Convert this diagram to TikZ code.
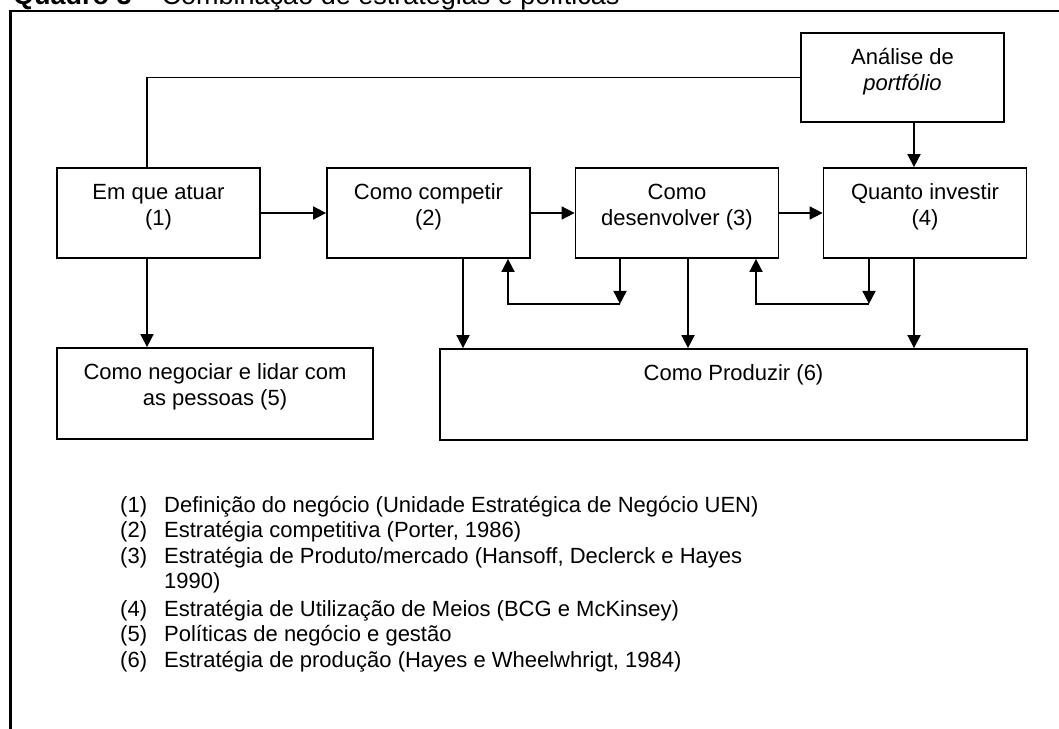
\documentclass[tikz,border=0pt]{standalone}
\usepackage{fontspec}
\setmainfont{Liberation Sans}
\usetikzlibrary{arrows.meta}
\newcommand{\cellbox}[3]{\parbox[c][#2][t]{#1}{\centering\rule{0pt}{31pt}#3}}

\begin{document}
\begin{tikzpicture}[x=1pt, y=-1pt,
  cell/.style={draw, line width=1.8pt, inner sep=0pt, font=\fontsize{22}{26}\selectfont},
  flow/.style={line width=1.8pt, -{Triangle[length=13pt,width=13pt]}},
  link/.style={line width=1.8pt}]
  \useasboundingbox (0,0) rectangle (1059,728);
  \node[anchor=base west, inner sep=0pt, font=\fontsize{27}{30}\selectfont] (title) at (13,5) {\textbf{Quadro 3} -- Combinação de estratégias e políticas};
  \draw[line width=2.5pt] (10.7,11) rectangle (1080,750);

  \node[cell] (anal) at (902.5,77.5) {\cellbox{203pt}{89pt}{Análise de\\\textit{portfólio}}};
  \node[cell] (em) at (158.5,213) {\cellbox{203pt}{90pt}{Em que atuar\\(1)}};
  \node[cell] (comp) at (428.5,213) {\cellbox{203pt}{90pt}{Como competir\\(2)}};
  \node[cell] (desv) at (677,213) {\cellbox{203pt}{90pt}{Como\\desenvolver (3)}};
  \node[cell] (quant) at (925,213) {\cellbox{203pt}{90pt}{Quanto investir\\(4)}};
  \node[cell] (neg) at (215,393.5) {\cellbox{316pt}{91pt}{Como negociar e lidar com\\as pessoas (5)}};
  \node[cell] (prod) at (733.5,394.5) {\cellbox{587pt}{91pt}{Como Produzir (6)}};

  \coordinate (em-out) at ([xshift=-11.5pt]em.south);
  \coordinate (anal-out) at ([xshift=11.5pt]anal.south);
  \coordinate (comp-out) at ([xshift=34.5pt]comp.south);
  \coordinate (comp-in) at ([xshift=79.5pt]comp.south);
  \coordinate (desv-fb) at ([xshift=-57pt]desv.south);
  \coordinate (desv-out) at ([xshift=11pt]desv.south);
  \coordinate (desv-in) at ([xshift=79pt]desv.south);
  \coordinate (quant-fb) at ([xshift=-56pt]quant.south);
  \coordinate (quant-out) at ([xshift=-11pt]quant.south);
  \coordinate (loop-a) at ([yshift=-45pt]desv-fb);
  \coordinate (loop-b) at ([yshift=-45pt]quant-fb);

  \draw[link] (em-out |- em.north) |- (anal.west);
  \draw[flow] (anal-out) -- (anal-out |- quant.north);
  \draw[flow] (em.east) -- (comp.west);
  \draw[flow] (comp.east) -- (desv.west);
  \draw[flow] (desv.east) -- (quant.west);
  \draw[flow] (em-out) -- (em-out |- neg.north);
  \draw[flow] (comp-out) -- (comp-out |- prod.north);
  \draw[flow] (desv-out) -- (desv-out |- prod.north);
  \draw[flow] (quant-out) -- (quant-out |- prod.north);
  \draw[flow] (desv-fb) -- (loop-a);
  \draw[flow] (loop-a) -| (comp-in);
  \draw[flow] (quant-fb) -- (loop-b);
  \draw[flow] (loop-b) -| (desv-in);

  \node[anchor=base west, inner sep=0pt, font=\fontsize{22}{25.5}\selectfont] (notes) at (120,512) {%
    \begin{tabular}[t]{@{}p{44pt}@{}l@{}}
      (1) & Definição do negócio (Unidade Estratégica de Negócio UEN)\\
      (2) & Estratégia competitiva (Porter, 1986)\\
      (3) & Estratégia de Produto/mercado (Hansoff, Declerck e Hayes\\
          & 1990)\\[2pt]
      (4) & Estratégia de Utilização de Meios (BCG e McKinsey)\\
      (5) & Políticas de negócio e gestão\\
      (6) & Estratégia de produção (Hayes e Wheelwhrigt, 1984)
    \end{tabular}};
\end{tikzpicture}
\end{document}
